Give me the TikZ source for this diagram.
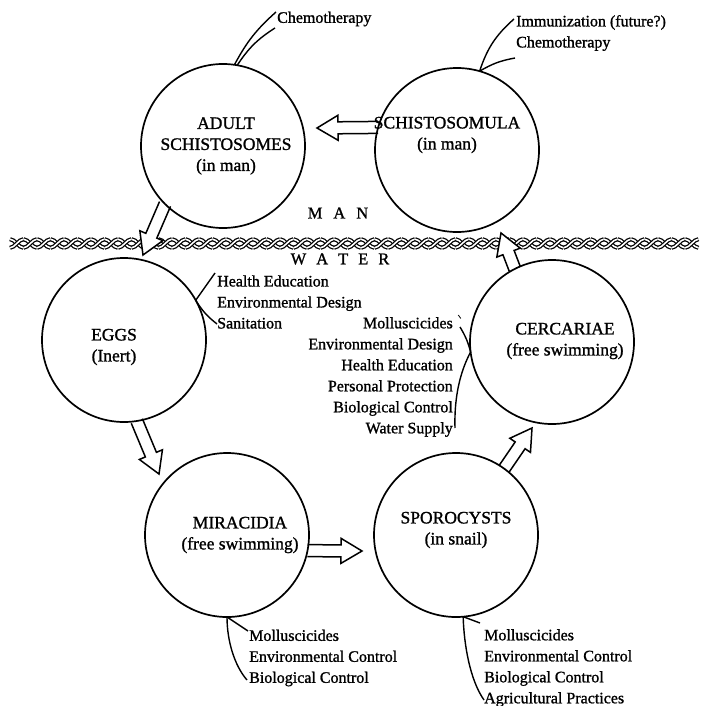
\documentclass[tikz,border=0pt]{standalone}
\usepackage{fontspec}
\setmainfont{Liberation Serif}[FakeBold=1.2]
\usetikzlibrary{calc,backgrounds}

\tikzset{
  stage/.style={circle, draw, line width=1.7pt, minimum size=164pt, inner sep=0pt, outer sep=0pt},
  stagetext/.style={align=center, inner sep=0pt, font=\fontsize{17.5}{21}\selectfont},
  ctrl/.style={align=left, inner sep=0pt, anchor=west, font=\fontsize{16}{21}\selectfont},
  ctrlr/.style={align=right, inner sep=0pt, anchor=east, font=\fontsize{16}{21}\selectfont},
  realm/.style={inner sep=0pt, font=\fontsize{16.5}{20}\selectfont},
  link/.style={line width=1.4pt},
  rope/.style={double=white, double distance=1.6pt, line width=1.25pt},
}

% #1 tail, #2 tip, #3 name of head-base coordinate
\newcommand\blockarrow[3]{%
  \coordinate (#3) at ($(#2)!21pt!(#1)$);
  \fill[white] ($(#1)!6pt!90:(#2)$) -- ($(#3)!6pt!90:(#2)$) -- ($(#3)!12.5pt!90:(#2)$) -- (#2)
     -- ($(#3)!12.5pt!-90:(#2)$) -- ($(#3)!6pt!-90:(#2)$) -- ($(#1)!6pt!-90:(#2)$) -- cycle;
  \draw[line width=1.5pt, line join=miter] ($(#1)!6pt!90:(#2)$) -- ($(#3)!6pt!90:(#2)$) -- ($(#3)!12.5pt!90:(#2)$) -- (#2)
     -- ($(#3)!12.5pt!-90:(#2)$) -- ($(#3)!6pt!-90:(#2)$) -- ($(#1)!6pt!-90:(#2)$);
}

\begin{document}
\begin{tikzpicture}[x=1pt,y=-1pt]
\useasboundingbox (0,0) rectangle (706,706);

% rope between MAN and WATER
\begin{scope}[on background layer]
\foreach \n in {0,...,50} {
  \pgfmathsetmacro\xa{10+13.5*\n}
  \pgfmathsetmacro\xb{\xa+13.5}
  \draw[rope] (\xa,239.2) .. controls (\xa+4.9,239.2) and (\xb-4.9,247.8) .. (\xb,247.8);
  \draw[rope] (\xa,247.8) .. controls (\xa+4.9,247.8) and (\xb-4.9,239.2) .. (\xb,239.2);
}
\end{scope}

% stages
\node[stage] (adult) at (223,146) {};
\node[stage] (schisto) at (457,150) {};
\node[stage] (eggs) at (124,340) {};
\node[stage] (cerc) at (552,342) {};
\node[stage] (mira) at (227,535) {};
\node[stage] (sporo) at (456,535) {};

\node[stagetext] (tadult) at (226,146) {ADULT\\SCHISTOSOMES\\(in man)};
\node[stagetext] (tschisto) at (447,135) {SCHISTOSOMULA\\(in man)};
\node[stagetext] (teggs) at (114,347) {EGGS\\(Inert)};
\node[stagetext] (tcerc) at (565,341) {CERCARIAE\\(free swimming)};
\node[stagetext] (tmira) at (240,535) {MIRACIDIA\\(free swimming)};
\node[stagetext] (tsporo) at (456,530) {SPOROCYSTS\\(in snail)};

\node[realm] (man) at (338,213) {M\hspace{11pt}A\hspace{11pt}N};
\node[realm] (water) at (340,259) {W\hspace{10pt}A\hspace{10pt}T\hspace{10pt}E\hspace{10pt}R};

% control measures
\node[ctrl] (ladult) at (277,19) {Chemotherapy};
\node[ctrl] (lschisto) at (516,33) {Immunization (future?)\\Chemotherapy};
\node[ctrl] (leggs) at (217,302) {Health Education\\Environmental Design\\Sanitation};
\node[ctrlr] (lcerc) at (453,377) {Molluscicides\\Environmental Design\\Health Education\\Personal Protection\\Biological Control\\Water Supply};
\node[ctrl] (lmira) at (249,658) {Molluscicides\\Environmental Control\\Biological Control};
\node[ctrl] (lsporo) at (484,668) {Molluscicides\\Environmental Control\\Biological Control\\Agricultural Practices};

% connector free ends
\coordinate (ea1) at (276,12);
\coordinate (ea2) at (275,28);
\coordinate (es1) at (514,19);
\coordinate (es2) at (515,58);
\coordinate (ee1) at (215,273);
\coordinate (ee2) at (217,324);
\coordinate (ec1) at (460,327);
\coordinate (ec2) at (455,428);
\coordinate (et1) at (458.3,315);
\coordinate (et2) at (460.8,318.5);
\coordinate (em1) at (248,631);
\coordinate (em2) at (247,680);
\coordinate (ep1) at (480,623);
\coordinate (ep2) at (484,700);

\draw[link] (adult.82) to[bend left=10] (ea1);
\draw[link] (adult.80) to[bend left=12] (ea2);
\draw[link] (schisto.74) to[bend left=15] (es1);
\draw[link] (schisto.74) to[bend left=10] (es2);
\draw[link] (eggs.29) -- (ee1);
\draw[link] (eggs.29) to[bend right=10] (ee2);
\draw[link] (cerc.187) to[bend right=8] (ec1);
\draw[link] (cerc.187) .. controls (461,370) and (454,395) .. (ec2);
\draw[line width=0.8pt] (et1) -- (et2);
\draw[link] (mira.-90) -- (em1);
\draw[link] (mira.-90) .. controls (227,640) and (234,665) .. (em2);
\draw[link] (sporo.-85) -- (ep1);
\draw[link] (sporo.-85) .. controls (464,645) and (470,680) .. (ep2);

% life-cycle block arrows
\coordinate (t1) at (317,128);
\coordinate (t2) at (143,255);
\coordinate (t3) at (159,474);
\coordinate (t4) at (362,551);
\coordinate (t5) at (532,428);
\coordinate (t6) at (501,233);
\begin{scope}[on background layer]
\blockarrow{schisto.164}{t1}{h1}
\blockarrow{adult.225}{t2}{h2}
\blockarrow{eggs.-81}{t3}{h3}
\blockarrow{mira.-11}{t4}{h4}
\blockarrow{sporo.54}{t5}{h5}
\blockarrow{cerc.117}{t6}{h6}
\end{scope}
\end{tikzpicture}
\end{document}
